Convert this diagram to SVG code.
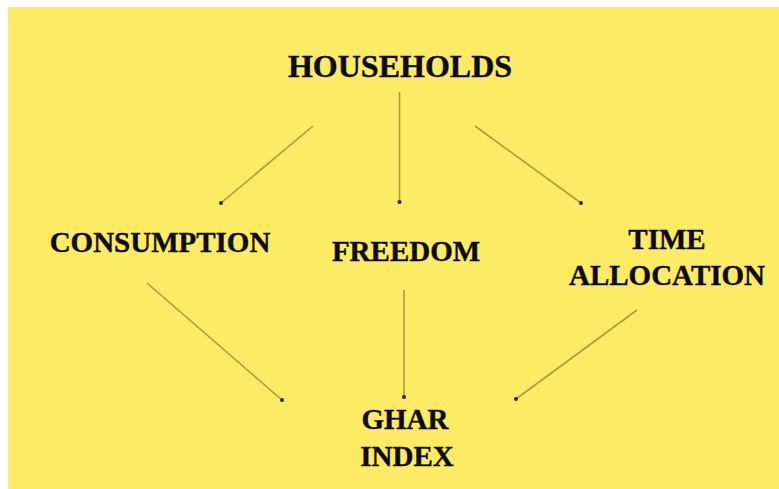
<svg xmlns="http://www.w3.org/2000/svg" width="779" height="489" viewBox="0 0 779 489">
<defs>
<style>
.lbl{font-family:"Liberation Serif","Times New Roman",serif;font-weight:bold;fill:#0d0b05;stroke:#0d0b05;stroke-width:0.4;text-anchor:middle}
.c{stroke:#ad9c38;stroke-width:1.6;fill:none}
</style>
<marker id="dot" markerWidth="6" markerHeight="6" refX="3" refY="3" markerUnits="userSpaceOnUse">
<circle cx="3" cy="3" r="2" fill="#2a2410"/>
</marker>
</defs>
<rect x="0" y="0" width="779" height="489" fill="#ffffff"/>
<rect x="8" y="7" width="771" height="482" fill="#fdeb66"/>
<g id="connectors">
<line class="c" x1="313" y1="126" x2="221" y2="203" marker-end="url(#dot)"/>
<line class="c" x1="399.5" y1="92" x2="399.5" y2="202" marker-end="url(#dot)"/>
<line class="c" x1="475" y1="126" x2="581" y2="203" marker-end="url(#dot)"/>
<line class="c" x1="147" y1="283" x2="282" y2="400" marker-end="url(#dot)"/>
<line class="c" x1="404" y1="290" x2="404" y2="397" marker-end="url(#dot)"/>
<line class="c" x1="637" y1="310" x2="516" y2="399" marker-end="url(#dot)"/>
</g>
<g id="households"><text class="lbl" x="400" y="77" font-size="32">HOUSEHOLDS</text></g>
<g id="consumption"><text class="lbl" x="160" y="252" font-size="29">CONSUMPTION</text></g>
<g id="freedom"><text class="lbl" x="406" y="261" font-size="29">FREEDOM</text></g>
<g id="time-allocation"><text class="lbl" font-size="29"><tspan x="667" y="249">TIME</tspan><tspan x="667" y="285">ALLOCATION</tspan></text></g>
<g id="ghar-index"><text class="lbl" font-size="29"><tspan x="405" y="429">GHAR</tspan><tspan x="407" y="466">INDEX</tspan></text></g>
</svg>
